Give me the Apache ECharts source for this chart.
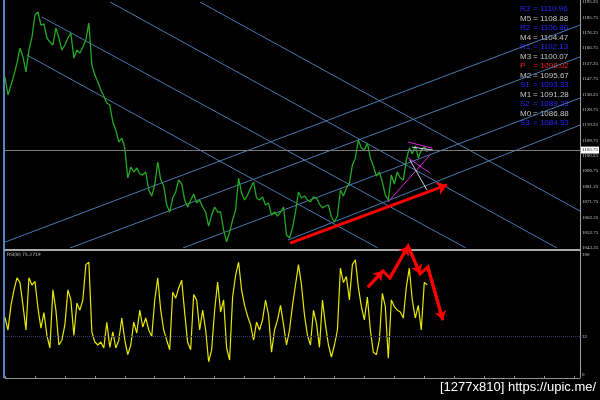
<!DOCTYPE html>
<html>
<head>
<meta charset="utf-8">
<script src="https://cdn.jsdelivr.net/npm/echarts@6/dist/echarts.min.js"></script>
<style>
  html, body { margin: 0; padding: 0; background: #000; }
  #chart { width: 600px; height: 400px; }
</style>
</head>
<body>
<div id="chart"></div>
<script>
// price (green line), one value per bar
const priceValues = [
  1148.9, 1137.8, 1144.0, 1150.1, 1157.6, 1166.8, 1161.3, 1152.0, 1165.6, 1173.6,
  1187.2, 1189.1, 1181.0, 1181.7, 1173.0, 1170.5, 1168.7, 1179.2, 1173.0, 1165.6,
  1168.7, 1173.0, 1176.1, 1160.6, 1165.6, 1163.7, 1167.4, 1171.8, 1182.3, 1156.3,
  1150.1, 1145.8, 1140.9, 1137.2, 1132.8, 1131.6, 1121.1, 1116.2, 1108.7, 1111.2,
  1105.0, 1086.5, 1093.3, 1090.2, 1092.7, 1089.0, 1088.4, 1090.2, 1079.1, 1075.4,
  1082.2, 1096.4, 1085.3, 1081.6, 1069.8, 1065.5, 1074.1, 1077.9, 1085.3, 1082.8,
  1072.9, 1068.6, 1072.9, 1076.6, 1071.1, 1072.9, 1068.6, 1065.5, 1056.8, 1063.6,
  1068.6, 1065.5, 1065.5, 1054.4, 1047.0, 1053.1, 1060.5, 1066.7, 1086.5, 1077.2,
  1072.9, 1076.0, 1080.3, 1084.0, 1074.1, 1072.9, 1074.8, 1069.8, 1071.1, 1063.6,
  1065.5, 1063.0, 1065.5, 1068.6, 1051.3, 1049.4, 1055.6, 1065.5, 1077.9, 1074.1,
  1075.4, 1072.9, 1071.7, 1074.8, 1074.1, 1070.4, 1068.0, 1069.2, 1069.8, 1062.4,
  1059.3, 1063.0, 1079.1, 1075.4, 1080.3, 1083.4, 1094.5, 1098.9, 1110.0, 1105.0,
  1103.8, 1108.1, 1098.9, 1093.9, 1087.7, 1090.2, 1084.0, 1076.0, 1072.9, 1088.4,
  1082.8, 1090.2, 1086.5, 1085.3, 1097.6, 1105.0, 1101.3, 1106.3, 1098.9, 1103.8,
  1105.7, 1102.6
];

// RSI(8), same bars
const rsiValues = [
  48, 37.5, 58, 71, 81, 77, 58, 37.5, 81, 75,
  78, 56, 39, 52, 33, 22.5, 71, 54, 25, 29,
  42, 71, 62.5, 33, 60, 54, 62.5, 92, 94, 36,
  27.5, 25, 27.5, 22.5, 44, 23, 36, 22.5, 29, 47.5,
  29, 17, 25, 44, 35, 54, 40, 47.5, 37.5, 32,
  62.5, 81, 54, 37.5, 29, 21, 69, 64, 72.5, 79,
  52, 27, 21, 67, 62.5, 37.5, 54, 37.5, 11, 21,
  54, 77.5, 52.5, 62.5, 22.5, 12.5, 65, 83, 94, 71,
  58, 49, 42, 29, 44, 37.5, 46, 62.5, 50, 19,
  37.5, 46, 58, 42, 25, 37.5, 58, 75, 92, 75,
  50, 33, 25, 54, 43, 23, 62.5, 42, 25, 15,
  25, 37.5, 89, 77, 82, 62.5, 92, 96, 73, 57,
  46, 65, 37.5, 19, 17, 29, 68, 57, 14, 62.5,
  57, 54, 52.5, 47.5, 73, 89, 62.5, 47.5, 58, 37.5,
  77, 75.3
];

const barCount = 192;
const priceMin = 1043.25;
const priceMax = 1195.25;
const priceStep = 9.5;
const currentPrice = 1103.75;
const rsiTicks = [0, 32, 100];
const rsiLevel = 32;
const rsiLast = 75.2719;

// pivot levels (top right)
const pivotNames = ['R3', 'M5', 'R2', 'M4', 'R1', 'M3', 'P', 'M2', 'S1', 'M1', 'S2', 'M0', 'S3'];
const pivotValues = [1110.96, 1108.88, 1106.80, 1104.47, 1102.13, 1100.07, 1098.02, 1095.67, 1093.33, 1091.28, 1089.23, 1086.88, 1084.53];
const pivotKinds = ['r', 'm', 'r', 'm', 'r', 'm', 'p', 'm', 's', 'm', 's', 'm', 's'];

// channel lines [bar1, price1, bar2, price2]
const channelLines = [
  [35.1, 1195.25, 184.3, 1043.25],
  [12.3, 1186.0, 153.9, 1043.25],
  [7.3, 1162.5, 124.5, 1043.25],
  [65.1, 1195.25, 192, 1066.1],
  [0, 1046.9, 192, 1181.0],
  [21.7, 1043.25, 192, 1161.3],
  [59.4, 1043.25, 192, 1135.9],
  [94.5, 1048.2, 192, 1119.2]
];
const magentaLines = [
  [127.9, 1071.7, 141.9, 1100.7],
  [134.6, 1108.7, 142.6, 1105.0],
  [134.6, 1098.9, 141.9, 1089.6]
];
const whiteLines = [
  [135.2, 1097.6, 140.9, 1079.1],
  [135.9, 1105.6, 142.9, 1103.8]
];
const trendArrow = [95.2, 1046.3, 147.6, 1082.2];

// hand drawn arrow in RSI pane [bar, rsi]
const rsiArrowPath = [[121.2, 73.3], [126.2, 86.7], [128.5, 80.8], [134.6, 107.5], [138.6, 84.2], [141.2, 90], [146.2, 45.8]];
const rsiArrowHeads = [[0, 1], [2, 3], [3, 4], [5, 6]];

const toCoords = l => ({ coords: [[l[0], l[1]], [l[2], l[3]]] });
const pivotColor = { r: '#2626ff', s: '#2626ff', m: '#c4c4c4', p: '#ff1a1a' };

const graphics = [
  { type: 'rect', shape: { x: 3, y: 0, width: 2, height: 378 }, style: { fill: '#5b82c8' } },
  { type: 'line', shape: { x1: 580.5, y1: 0, x2: 580.5, y2: 378 }, style: { stroke: '#a0a0a0', lineWidth: 1 } },
  { type: 'text', x: 7, y: 255, style: { text: 'RSI(8) ' + rsiLast, fill: '#c0c0c0', font: '4.5px "DejaVu Sans"', verticalAlign: 'middle' } },
  { type: 'text', x: 440, y: 387, style: { text: '[1277x810] https://upic.me/', fill: '#ffffff', font: '13px "Liberation Sans"', verticalAlign: 'middle' } }
];
pivotNames.forEach((n, i) => {
  const c = pivotColor[pivotKinds[i]];
  const y = 9 + i * 9.5;
  graphics.push({ type: 'text', x: 520, y: y, style: { text: n, fill: c, font: '8px "Liberation Sans"', verticalAlign: 'middle' } });
  graphics.push({ type: 'text', x: 533, y: y, style: { text: '= ' + pivotValues[i].toFixed(2), fill: c, font: '8px "Liberation Sans"', verticalAlign: 'middle' } });
});

const axisFont = { color: '#c8c8c8', fontSize: 5, margin: 2, fontFamily: 'Liberation Serif' };

const chart = echarts.init(document.getElementById('chart'));
const option = {
  backgroundColor: '#000',
  animation: false,
  grid: [
    { left: 5, right: 20, top: 2, bottom: 152, outerBoundsMode: 'none', containLabel: false },
    { left: 5, right: 20, top: 255, bottom: 25, outerBoundsMode: 'none', containLabel: false }
  ],
  xAxis: [
    {
      type: 'value', gridIndex: 0, min: 0, max: barCount, offset: 2,
      axisLine: { onZero: false, lineStyle: { color: '#a8a8a8', width: 2 } },
      axisTick: { show: false }, axisLabel: { show: false }, splitLine: { show: false }
    },
    {
      type: 'value', gridIndex: 1, min: 0, max: barCount, interval: 10, offset: 3,
      axisLine: { onZero: false, lineStyle: { color: '#909090' } },
      axisTick: { inside: true, length: 2, lineStyle: { color: '#909090' } },
      axisLabel: { show: false }, splitLine: { show: false }
    }
  ],
  yAxis: [
    {
      type: 'value', gridIndex: 0, position: 'right', min: priceMin, max: priceMax, interval: priceStep,
      axisLine: { show: false }, axisTick: { show: false }, splitLine: { show: false },
      axisLabel: Object.assign({ formatter: v => v.toFixed(2) }, axisFont)
    },
    {
      type: 'value', gridIndex: 1, position: 'right', min: 0, max: 100,
      axisLine: { show: false }, axisTick: { show: false }, splitLine: { show: false },
      axisLabel: Object.assign({ customValues: rsiTicks }, axisFont)
    }
  ],
  graphic: graphics,
  series: [
    {
      type: 'lines', coordinateSystem: 'cartesian2d', xAxisIndex: 0, yAxisIndex: 0, z: 1,
      data: channelLines.map(toCoords),
      lineStyle: { color: '#4a78ad', width: 1, opacity: 1 }
    },
    {
      type: 'line', xAxisIndex: 0, yAxisIndex: 0, z: 2,
      data: priceValues.map((v, i) => [i, v]),
      showSymbol: false,
      lineStyle: { color: '#22a822', width: 1.3 },
      markLine: {
        silent: true, symbol: ['none', 'none'],
        data: [{ yAxis: currentPrice }],
        lineStyle: { color: '#7a7a7a', type: 'solid', width: 1 },
        label: {
          position: 'end', distance: 1, formatter: currentPrice.toFixed(2),
          backgroundColor: '#ffffff', color: '#000', fontSize: 5, fontFamily: 'Liberation Serif', padding: [1, 1]
        }
      }
    },
    {
      type: 'lines', coordinateSystem: 'cartesian2d', xAxisIndex: 0, yAxisIndex: 0, z: 3,
      data: magentaLines.map(toCoords),
      lineStyle: { color: '#d82ad8', width: 1, opacity: 1 }
    },
    {
      type: 'lines', coordinateSystem: 'cartesian2d', xAxisIndex: 0, yAxisIndex: 0, z: 3,
      data: whiteLines.map(toCoords),
      lineStyle: { color: '#c8d0f0', width: 1, opacity: 1 }
    },
    {
      type: 'lines', coordinateSystem: 'cartesian2d', xAxisIndex: 0, yAxisIndex: 0, z: 4,
      data: [toCoords(trendArrow)],
      symbol: ['none', 'arrow'], symbolSize: 10,
      lineStyle: { color: '#ff0000', width: 3, opacity: 1 }
    },
    {
      type: 'line', xAxisIndex: 1, yAxisIndex: 1, z: 2,
      data: rsiValues.map((v, i) => [i, v]),
      showSymbol: false,
      lineStyle: { color: '#e8e800', width: 1.2 },
      markLine: {
        silent: true, symbol: ['none', 'none'],
        data: [{ yAxis: rsiLevel }],
        lineStyle: { color: '#34346e', type: 'dotted', width: 1 },
        label: { show: false }
      }
    },
    {
      type: 'lines', coordinateSystem: 'cartesian2d', xAxisIndex: 1, yAxisIndex: 1, z: 4,
      polyline: true, clip: false,
      data: [{ coords: rsiArrowPath }],
      lineStyle: { color: '#ff0000', width: 3, opacity: 1 }
    },
    {
      type: 'lines', coordinateSystem: 'cartesian2d', xAxisIndex: 1, yAxisIndex: 1, z: 4,
      clip: false,
      data: rsiArrowHeads.map(h => ({ coords: [rsiArrowPath[h[0]], rsiArrowPath[h[1]]] })),
      symbol: ['none', 'arrow'], symbolSize: 9,
      lineStyle: { color: '#ff0000', width: 3, opacity: 1 }
    }
  ]
};
chart.setOption(option);
</script>
</body>
</html>
